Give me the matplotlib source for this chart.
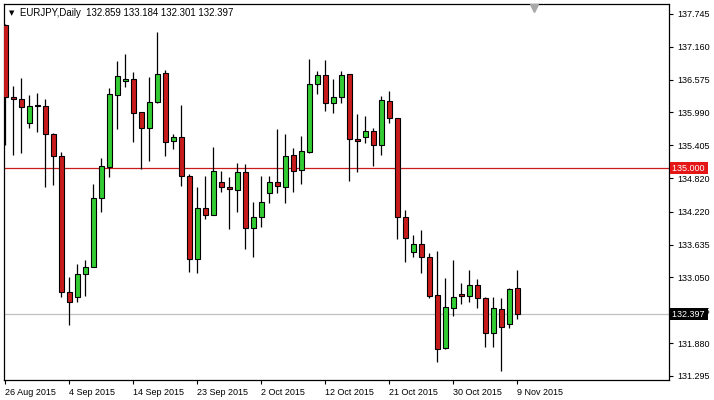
import matplotlib
matplotlib.use("Agg")
import matplotlib.pyplot as plt
import matplotlib.transforms as mtransforms
import numpy as np

plt.rcParams['font.family'] = ['Liberation Sans', 'DejaVu Sans']

# EURJPY daily bars, 26 Aug 2015 .. 9 Nov 2015 (Sunday bars included)
opens = [137.549, 136.274, 136.224, 135.797, 136.112, 136.114, 135.606, 135.214,
         132.782, 132.696, 133.106, 133.231, 134.457, 135.023, 136.310, 136.545,
         136.581, 135.993, 135.708, 136.171, 136.697, 135.490, 135.556, 134.863,
         133.373, 134.282, 134.157, 134.756, 134.656, 134.603, 134.934, 133.926,
         134.132, 134.549, 134.745, 134.667, 135.227, 134.959, 135.291, 136.497,
         136.652, 136.153, 136.260, 136.670, 135.512, 135.547, 135.654, 135.415,
         136.194, 135.886, 134.122, 133.509, 133.641, 133.420, 132.737, 131.787,
         132.500, 132.750, 132.714, 132.910, 132.678, 132.055, 132.482, 132.215,
         132.859]
highs = [137.566, 136.461, 136.599, 136.301, 136.331, 136.226, 135.619, 135.280,
         133.058, 133.286, 133.361, 134.715, 135.173, 136.420, 136.911, 137.032,
         136.711, 135.998, 136.625, 137.429, 136.747, 135.610, 136.123, 134.893,
         134.667, 134.863, 135.380, 134.947, 134.845, 135.084, 135.072, 134.389,
         134.858, 134.863, 135.695, 135.606, 135.362, 135.570, 136.937, 136.729,
         136.925, 136.586, 136.729, 136.670, 135.963, 135.927, 135.708, 136.283,
         136.372, 135.891, 134.252, 133.806, 133.895, 133.480, 133.521, 133.045,
         133.361, 132.946, 133.183, 133.017, 132.696, 132.696, 132.678, 132.867,
         133.184]
lows = [135.410, 135.232, 135.273, 135.708, 135.647, 134.653, 134.706, 132.707,
        132.197, 132.607, 132.725, 133.231, 134.222, 134.845, 135.704, 136.435,
        135.469, 134.979, 135.130, 136.167, 135.219, 135.339, 134.685, 133.152,
        133.124, 134.086, 134.154, 134.578, 133.908, 134.211, 133.551, 133.409,
        133.954, 134.371, 134.549, 134.371, 134.578, 134.710, 135.273, 136.314,
        136.021, 135.986, 136.164, 134.774, 134.934, 135.440, 135.041, 135.237,
        135.797, 133.730, 133.330, 133.420, 133.124, 132.678, 131.548, 131.769,
        132.368, 132.577, 132.618, 132.511, 131.816, 131.816, 131.388, 132.144,
        132.301]
closes = [136.260, 136.224, 136.093, 136.114, 136.116, 135.601, 135.214, 132.796,
          132.607, 133.106, 133.231, 134.460, 135.036, 136.315, 136.636, 136.581,
          135.975, 135.708, 136.171, 136.675, 135.472, 135.556, 134.863, 133.373,
          134.282, 134.159, 134.947, 134.662, 134.621, 134.934, 133.926, 134.132,
          134.389, 134.756, 134.685, 135.214, 134.941, 135.298, 136.497, 136.657,
          136.153, 136.260, 136.652, 135.512, 135.476, 135.654, 135.415, 136.207,
          135.897, 134.122, 133.747, 133.641, 133.420, 132.719, 131.769, 132.518,
          132.696, 132.714, 132.910, 132.678, 132.055, 132.500, 132.161, 132.839,
          132.397]

date_labels = ["26 Aug 2015", "4 Sep 2015", "14 Sep 2015", "23 Sep 2015", "2 Oct 2015",
               "12 Oct 2015", "21 Oct 2015", "30 Oct 2015", "9 Nov 2015"]
date_bars = [0, 8, 16, 24, 32, 40, 48, 56, 64]
price_ticks = [137.745, 137.160, 136.575, 135.990, 135.405, 134.820, 134.220,
               133.635, 133.050, 132.465, 131.880, 131.295]
level = 135.000
bid = 132.397

GREEN = '#32cd32'
RED = '#c81c1c'

fig = plt.figure(figsize=(7.14, 4.0), dpi=100)
ax = fig.add_axes([4 / 714, 20 / 400, 665 / 714, 376 / 400])

o = np.array(opens); h = np.array(highs); l = np.array(lows); c = np.array(closes)
x = np.arange(len(o))
up = c >= o
cols = np.where(up, GREEN, RED)

ax.vlines(x, l, h, color='black', linewidth=0.9, zorder=2)
bottom = np.minimum(o, c)
height = np.maximum(np.abs(c - o), 0.004)
ax.bar(x, height, bottom=bottom, width=0.62, color=cols, edgecolor='black',
       linewidth=0.8, zorder=3)

ax.axhline(level, color='#c81c1c', linewidth=0.9, zorder=1)
ax.axhline(bid, color='#c0c0c0', linewidth=0.9, zorder=1)

ax.set_xlim(-0.16, 82.96)
ax.set_ylim(131.222, 137.923)

ax.yaxis.tick_right()
ax.set_yticks(price_ticks)
ax.set_yticklabels([f"{v:.3f}" for v in price_ticks])
ax.tick_params(axis='y', length=3, width=0.8, pad=3, labelsize=6.5, colors='black')

ax.set_xticks(date_bars)
ax.set_xticklabels(date_labels)
ax.tick_params(axis='x', length=3, width=0.8, pad=3, labelsize=6.5)
for t in ax.get_xticklabels():
    t.set_horizontalalignment('left')

for s in ax.spines.values():
    s.set_linewidth(0.9)
    s.set_color('black')

trans = mtransforms.blended_transform_factory(ax.transAxes, ax.transData)
ax.text(1.004, level, "135.000 ", transform=trans, fontsize=6.5, color='white',
        va='center', ha='left', clip_on=False, zorder=10,
        bbox=dict(boxstyle='square,pad=0.2', facecolor='#e41616', edgecolor='none'))
ax.text(1.004, bid, "132.397 ", transform=trans, fontsize=6.5, color='white',
        va='center', ha='left', clip_on=False, zorder=10,
        bbox=dict(boxstyle='square,pad=0.2', facecolor='black', edgecolor='none'))

# chart shift marker
ax.plot([66.1], [137.85], marker='v', markersize=6, color='#a8a8a8', clip_on=False, zorder=5)

fig.text(12 / 714, 1 - 13 / 400, "\u25bc", fontsize=5, va='center', ha='center',
         family='DejaVu Sans')
fig.text(20 / 714, 1 - 13 / 400,
         "EURJPY,Daily  132.859 133.184 132.301 132.397",
         fontsize=6.9, va='center', ha='left')

fig.savefig("out.png", dpi=100, facecolor='white')
